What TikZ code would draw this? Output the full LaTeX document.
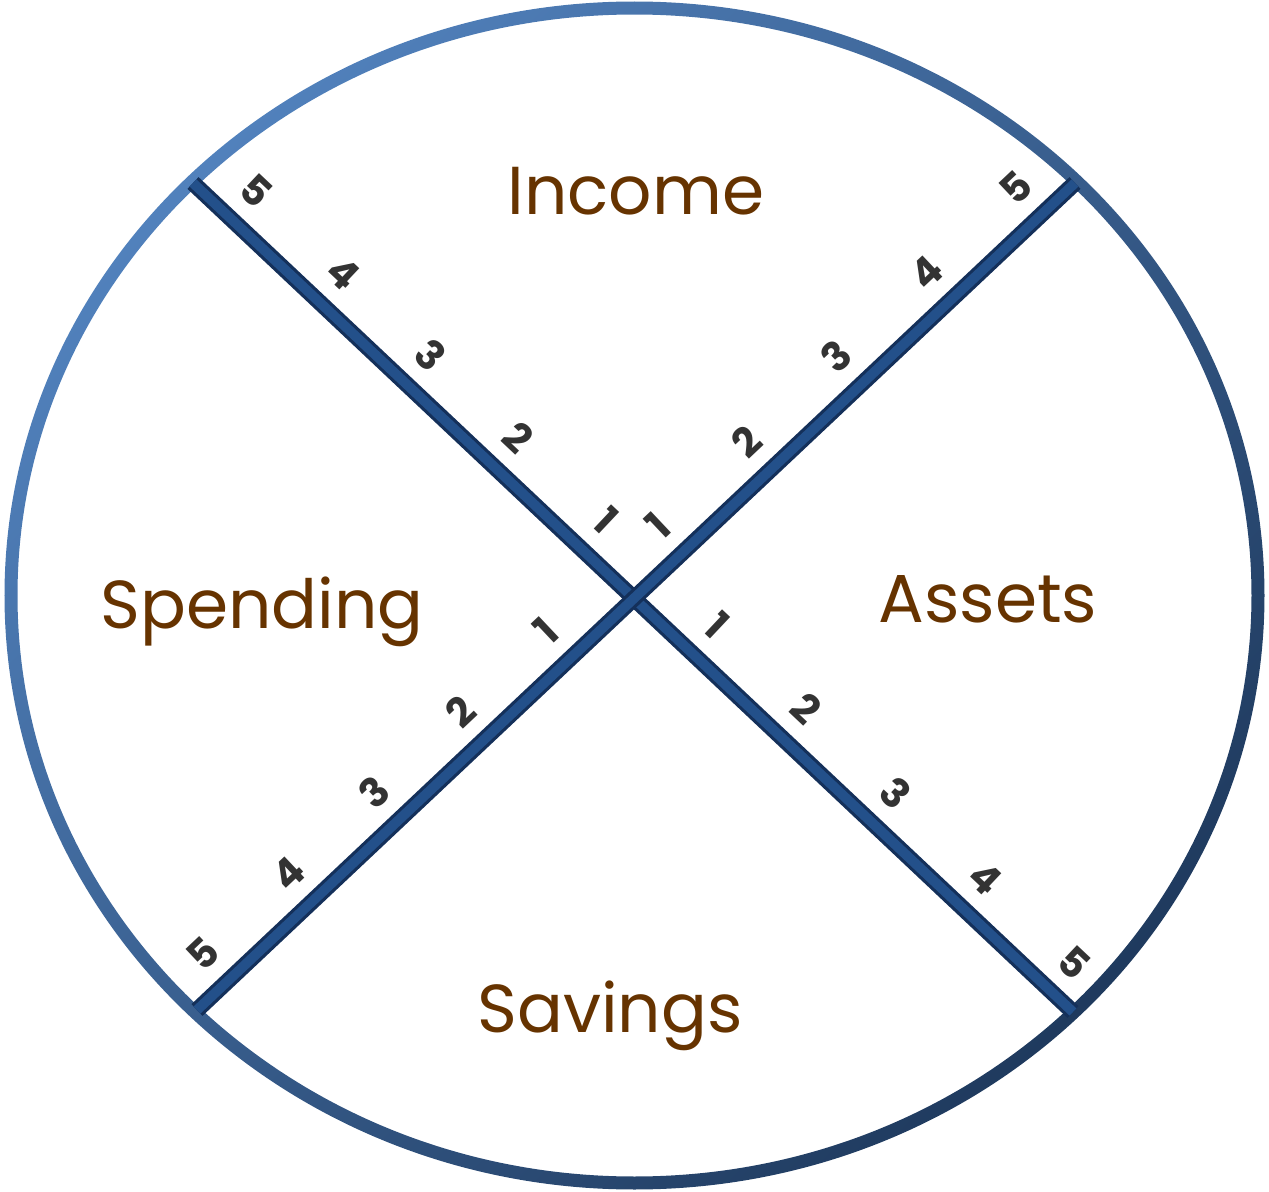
\documentclass[tikz,border=0pt]{standalone}
\usepackage{fontspec}
\setmainfont{Poppins}
\usetikzlibrary{calc}
\definecolor{labelbrown}{HTML}{663300}
\definecolor{rimlight}{HTML}{5181BC}
\definecolor{rimdark}{HTML}{1F3A5E}
\definecolor{barblue}{HTML}{23508A}
\definecolor{bardark}{HTML}{14305A}

\begin{document}
\begin{tikzpicture}[x=1cm, y=-1cm,
    region/.style = {anchor=base, text=labelbrown,
      font=\fontsize{19.3}{23}\selectfont},
    num/.style = {inner sep=1pt, text=black!80,
      font=\fontsize{11.5}{13}\selectfont\bfseries},
    bar/.style = {line width=4.6pt, draw=bardark},
    barface/.style = {line width=2.8pt, draw=barblue}]
  \useasboundingbox (0,0) rectangle (12.69,11.92);
  \coordinate (C) at (6.35,5.98);
  \coordinate (nw) at (1.93,1.83);
  \coordinate (se) at (10.73,10.12);
  \coordinate (ne) at (10.75,1.83);
  \coordinate (sw) at (1.97,10.10);
  % rim
  \shade[even odd rule, top color=rimlight, bottom color=rimdark, shading angle=45]
    (6.345,5.955) ellipse [x radius=6.30cm, y radius=5.94cm]
    (6.345,5.955) ellipse [x radius=6.17cm, y radius=5.81cm];
  % cross
  \draw[bar] (nw) -- (se);
  \draw[barface] (nw) -- (se);
  \draw[bar] (sw) -- (ne);
  \draw[barface] (sw) -- (ne);
  % scale marks
  \foreach \n in {1,...,5} {
    \node[num, rotate=-43.3, above=1.8mm] (ul\n) at ($(C)!{0.75cm+(\n-1)*1.2cm}!(nw)$) {\n};
    \node[num, rotate=43.3, above=1.8mm] (ur\n) at ($(C)!{0.66cm+(\n-1)*1.23cm}!(ne)$) {\n};
    \node[num, rotate=43.3, above=1.8mm] (ll\n) at ($(C)!{0.87cm+(\n-1)*1.18cm}!(sw)$) {\n};
    \node[num, rotate=-43.3, above=1.8mm] (lr\n) at ($(C)!{0.78cm+(\n-1)*1.23cm}!(se)$) {\n};
  }
  % quadrants
  \node[region] (income) at (6.36,2.15) {Income};
  \node[region] (spending) at (2.62,6.28) {Spending};
  \node[region] (assets) at (9.88,6.22) {Assets};
  \node[region] (savings) at (6.10,10.32) {Savings};
\end{tikzpicture}
\end{document}
